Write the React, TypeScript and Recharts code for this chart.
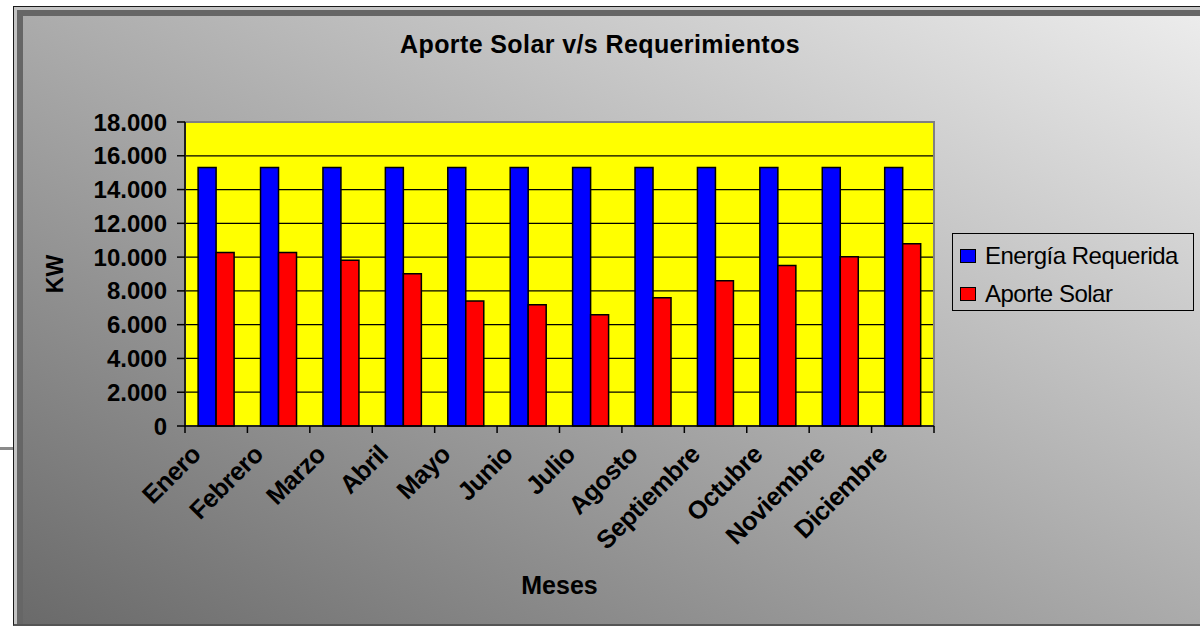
import { BarChart, Bar, XAxis, YAxis, CartesianGrid, ReferenceArea } from 'recharts'

const months = ['Enero', 'Febrero', 'Marzo', 'Abril', 'Mayo', 'Junio', 'Julio', 'Agosto', 'Septiembre', 'Octubre', 'Noviembre', 'Diciembre']
const energiaRequerida = [15300, 15300, 15300, 15300, 15300, 15300, 15300, 15300, 15300, 15300, 15300, 15300]
const aporteSolar = [10280, 10280, 9810, 9020, 7400, 7180, 6590, 7600, 8600, 9510, 10020, 10790]
const yTicks = [0, 2000, 4000, 6000, 8000, 10000, 12000, 14000, 16000, 18000]

const data = months.map((mes, i) => ({
  mes,
  energia: energiaRequerida[i],
  aporte: aporteSolar[i],
}))

const FONT = '"Liberation Sans", Arial, sans-serif'

const fmt = (v: number) => String(v).replace(/\B(?=(\d{3})+(?!\d))/g, '.')

// month label rotated like excel, plus tick marks on category boundaries
function MonthTick(props: any) {
  const { x, y, payload, index } = props
  const off = payload.offset || 0
  return (
    <g>
      <line x1={x - off} x2={x - off} y1={y - 8} y2={y - 1} stroke="#000" strokeWidth={1.5} />
      {index === months.length - 1 && (
        <line x1={x + off} x2={x + off} y1={y - 8} y2={y - 1} stroke="#000" strokeWidth={1.5} />
      )}
      <g transform={`translate(${x - 27},${y + 9})`}>
        <text
          textAnchor="end"
          dy="0.72em"
          transform="rotate(-45)"
          fontFamily={FONT}
          fontWeight="bold"
          fontSize={25.5}
          letterSpacing={-0.5}
          fill="#000"
        >
          {payload.value}
        </text>
      </g>
    </g>
  )
}

export default function App() {
  return (
    <div style={{ position: 'absolute', left: 0, top: 0, width: 1200, height: 626, overflow: 'hidden', background: '#fff' }}>
      {/* stub line outside the frame */}
      <div style={{ position: 'absolute', left: 0, top: 447, width: 13, height: 3, background: '#8a8a8a' }} />
      {/* chart frame */}
      <div
        style={{
          position: 'absolute',
          left: 13,
          top: 6,
          width: 1187,
          height: 620,
          boxSizing: 'border-box',
          borderTop: '1px solid #1a1a1a',
          borderLeft: '1px solid #1a1a1a',
          borderBottom: '2px solid #555',
          background: '#c4c4c4',
        }}
      >
        <div
          style={{
            position: 'absolute',
            inset: 0,
            top: 3,
            left: 3,
            borderTop: '6px solid #666',
            borderLeft: '6px solid #666',
            background: 'linear-gradient(to bottom left, #ececec 0%, #ababab 50%, #6a6a6a 100%)',
          }}
        />
      </div>

      <div
        style={{
          position: 'absolute',
          left: 0,
          top: 30,
          width: 1200,
          textAlign: 'center',
          fontFamily: FONT,
          fontWeight: 'bold',
          fontSize: 25,
          letterSpacing: 0.4,
          color: '#000',
        }}
      >
        Aporte Solar v/s Requerimientos
      </div>

      <div style={{ position: 'absolute', left: 0, top: 0 }}>
        <BarChart
          width={1200}
          height={626}
          data={data}
          margin={{ top: 122, right: 266, bottom: 0, left: 0 }}
          barCategoryGap="21%"
          barGap={0}
        >
          <CartesianGrid vertical={false} stroke="#000" strokeWidth={1.2} fill="#ffff00" fillOpacity={1} />
          <ReferenceArea y1={0} y2={18000} fill="none" stroke="#808080" strokeWidth={2} ifOverflow="visible" />
          <XAxis
            dataKey="mes"
            height={200}
            interval={0}
            tickLine={false}
            axisLine={{ stroke: '#000', strokeWidth: 1.5 }}
            tick={<MonthTick />}
            label={{
              value: 'Meses',
              position: 'insideBottom',
              offset: 32,
              style: { fontFamily: FONT, fontWeight: 'bold', fontSize: 25, fill: '#000' },
            }}
          />
          <YAxis
            width={185}
            domain={[0, 18000]}
            ticks={yTicks}
            interval={0}
            tickFormatter={fmt}
            tickSize={8}
            tickMargin={10}
            tickLine={{ stroke: '#000', strokeWidth: 1.5 }}
            axisLine={{ stroke: '#000', strokeWidth: 1.5 }}
            tick={{ fontFamily: FONT, fontWeight: 'bold', fontSize: 24, fill: '#000' }}
            label={{
              content: (p: any) => {
                const vb = p.viewBox
                return (
                  <text
                    transform={`translate(${vb.x + 63},${vb.y + vb.height / 2}) rotate(-90)`}
                    textAnchor="middle"
                    fontFamily={FONT}
                    fontWeight="bold"
                    fontSize={23}
                    fill="#000"
                  >
                    KW
                  </text>
                )
              },
            }}
          />
          <Bar dataKey="energia" name="Energía Requerida" fill="#0000ff" stroke="#000" strokeWidth={1.5} isAnimationActive={false} />
          <Bar dataKey="aporte" name="Aporte Solar" fill="#ff0000" stroke="#000" strokeWidth={1.5} isAnimationActive={false} />
        </BarChart>
      </div>

      {/* legend */}
      <div
        style={{
          position: 'absolute',
          left: 952,
          top: 233,
          width: 242,
          height: 78,
          boxSizing: 'border-box',
          border: '1.5px solid #000',
          fontFamily: FONT,
          fontSize: 24,
          letterSpacing: -0.5,
          color: '#000',
        }}
      >
        {[
          { label: 'Energía Requerida', color: '#0000ff' },
          { label: 'Aporte Solar', color: '#ff0000' },
        ].map((it, i) => (
          <div key={it.label} style={{ position: 'absolute', left: 7, top: 8 + i * 38, height: 28, display: 'flex', alignItems: 'center', whiteSpace: 'nowrap' }}>
            <span style={{ display: 'inline-block', width: 16, height: 14, boxSizing: 'border-box', background: it.color, border: '1.5px solid #000', marginRight: 9 }} />
            {it.label}
          </div>
        ))}
      </div>
    </div>
  )
}
